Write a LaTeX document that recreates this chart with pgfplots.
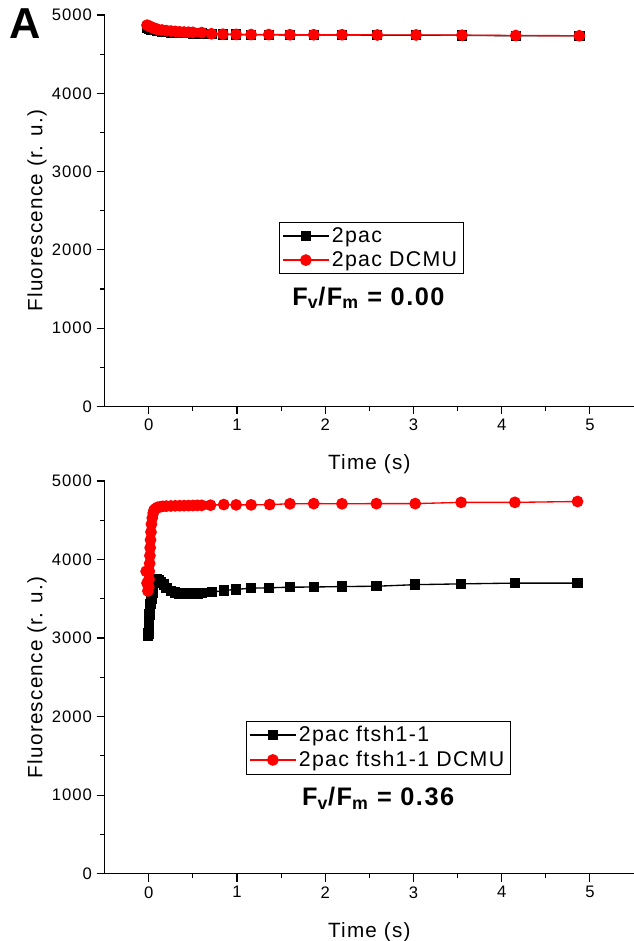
\documentclass[border=0pt]{standalone}
\usepackage{fontspec}
\setmainfont{Liberation Sans}[LetterSpace=6]
\usepackage{pgfplots}
\pgfplotsset{compat=1.18}
\pgfplotsset{
  myax/.style={
    scale only axis, width=397pt,
    xmin=-0.5, xmax=5.5, ymin=0, ymax=5000,
    axis x line*=bottom, axis y line*=left,
    xtick={0,1,2,3,4,5}, ytick={0,1000,2000,3000,4000,5000},
    minor x tick num=1, minor y tick num=1,
    tick align=outside, major tick length=6pt, minor tick length=3.5pt,
    tick style={black, line width=0.9pt},
    axis line style={line width=1pt, -},
    ticklabel style={font=\fontsize{12.5}{14}\selectfont},
    /pgf/number format/assume math mode=true,
    /pgf/number format/1000 sep={},
    xlabel={Time (s)}, ylabel={Fluorescence (r. u.)},
    label style={font=\fontsize{15.5}{18}\selectfont},
    xlabel style={at={(axis description cs:0.5,-0.148)}, anchor=center},
    ylabel style={at={(axis description cs:-0.128,0.5)}, anchor=center},
    clip=false,
    legend cell align=left,
    legend image code/.code={\draw[mark repeat=2,mark phase=2,#1] plot coordinates {(0cm,0cm) (0.6cm,0cm) (1.2cm,0cm)};},
  },
  blk/.style={black, line width=1pt, mark=square*, mark size=3.4pt, mark options={solid, fill=black}},
  rd/.style={red, line width=1pt, mark=*, mark size=3.9pt, mark options={solid, fill=red}},
}
\begin{document}
\begin{tikzpicture}
\path[use as bounding box] (0,0) rectangle (475.5pt,705.75pt);
\node[font=\bfseries\fontsize{32.5}{34}\selectfont, inner sep=0pt] at (18.6pt,687.75pt) {A};
% ---------- top panel ----------
\begin{axis}[myax, at={(78.5pt,400.9pt)}, anchor=south west, height=293.6pt,
  legend style={at={(axis cs:2.52,2360)}, anchor=north, draw=black, line width=0.6pt,
    font=\fontsize{16}{18}\selectfont, inner xsep=2.5pt, inner ysep=2pt, row sep=1.5pt}]
\addplot[blk] coordinates {
(-0.02,4840) (0,4830) (0.03,4815) (0.06,4805) (0.1,4795) (0.15,4788) (0.2,4780)
(0.25,4777) (0.3,4775) (0.35,4772) (0.4,4770) (0.45,4768) (0.5,4765) (0.6,4762)
(0.71,4755) (0.84,4752) (0.99,4750) (1.16,4748) (1.36,4748) (1.6,4745) (1.87,4745)
(2.19,4745) (2.59,4742) (3.03,4742) (3.55,4740) (4.16,4735) (4.88,4735)};
\addlegendentry{2pac}
\addplot[rd] coordinates {
(-0.02,4870) (0,4860) (0.02,4850) (0.05,4835) (0.08,4825) (0.1,4815) (0.15,4808)
(0.2,4800) (0.25,4795) (0.3,4790) (0.35,4785) (0.4,4782) (0.45,4780) (0.5,4778)
(0.6,4775) (0.71,4760) (0.84,4755) (0.99,4752) (1.16,4750) (1.36,4750) (1.6,4748)
(1.87,4748) (2.19,4748) (2.59,4745) (3.03,4745) (3.55,4742) (4.16,4738) (4.88,4735)};
\addlegendentry{2pac DCMU}
\node[font=\bfseries\fontsize{19}{21}\selectfont] at (axis cs:2.49,1386)
  {F\textsubscript{v}/F\textsubscript{m} = 0.00};
\end{axis}
% ---------- bottom panel ----------
\begin{axis}[myax, at={(78.5pt,50.5pt)}, anchor=south west, height=294.5pt,
  legend style={at={(axis cs:2.6,1948)}, anchor=north, draw=black, line width=0.6pt,
    font=\fontsize{16}{18}\selectfont, inner xsep=2.5pt, inner ysep=2pt, row sep=1.5pt}]
\addplot[blk] coordinates {
(-0.01,3030) (-0.005,3060) (0,3100) (0.005,3200) (0.01,3300) (0.015,3380) (0.02,3430) (0.03,3500)
(0.04,3580) (0.05,3650) (0.07,3720) (0.09,3750) (0.11,3740) (0.14,3710) (0.17,3680)
(0.2,3640) (0.25,3600) (0.3,3580) (0.35,3570) (0.4,3565) (0.45,3565) (0.5,3568)
(0.55,3570) (0.6,3575) (0.72,3585) (0.85,3605) (0.99,3620) (1.16,3635) (1.36,3640)
(1.6,3648) (1.87,3650) (2.19,3656) (2.58,3660) (3.02,3680) (3.54,3690) (4.15,3700)
(4.86,3700)};
\addlegendentry{2pac ftsh1-1}
\addplot[rd] coordinates {
(-0.03,3850) (-0.02,3700) (-0.01,3600) (0,3650) (0.003,3750) (0.006,3850) (0.01,3950) (0.013,4050) (0.016,4150)
(0.02,4250) (0.025,4350) (0.03,4450) (0.04,4530) (0.05,4590) (0.06,4630) (0.08,4650)
(0.1,4665) (0.13,4672) (0.16,4678) (0.2,4680) (0.25,4682) (0.3,4684) (0.35,4685)
(0.4,4686) (0.45,4687) (0.5,4688) (0.55,4690) (0.6,4690) (0.7,4692) (0.85,4700)
(0.99,4696) (1.16,4696) (1.37,4700) (1.6,4710) (1.87,4712) (2.19,4710) (2.58,4712)
(3.02,4712) (3.54,4728) (4.15,4728) (4.86,4739)};
\addlegendentry{2pac ftsh1-1 DCMU}
\node[font=\bfseries\fontsize{19}{21}\selectfont] at (axis cs:2.6,960)
  {F\textsubscript{v}/F\textsubscript{m} = 0.36};
\end{axis}
\end{tikzpicture}
\end{document}
